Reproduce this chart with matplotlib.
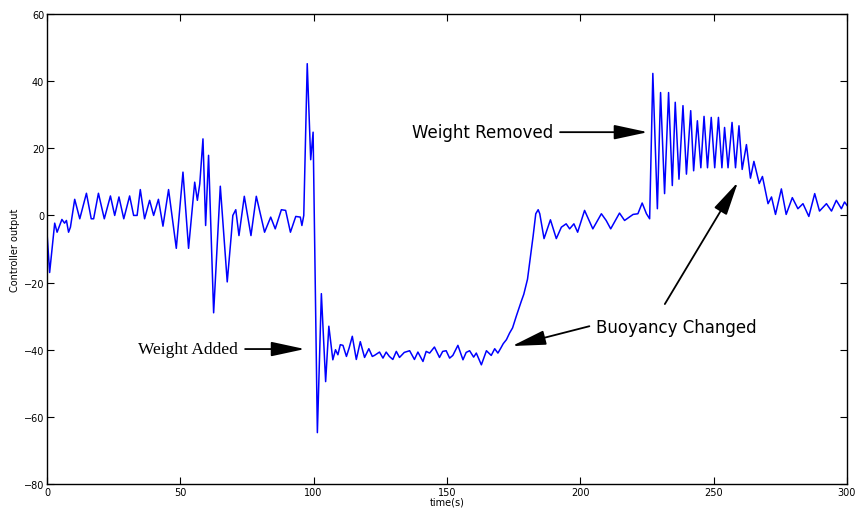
import matplotlib
matplotlib.use("Agg")
import matplotlib.pyplot as plt

# controller output (time in s, output)
time_s = [0, 1, 2.9, 3.8, 4.5, 5.6, 6.6, 7.3, 8.1, 8.8, 10.4, 12.3, 14.8, 16.6, 17.5,
          19.3, 21.5, 23.8, 25.4, 27, 28.8, 31, 32.5, 33.8, 35, 36.6, 38.5, 40, 41.8,
          43.5, 45.6, 48.5, 51, 53.1, 55.4, 56.4, 57.3, 58.5, 59.5, 60.6, 62.5, 65,
          67.6, 69.1, 69.7, 70.8, 72, 74, 76.5, 78.5, 81.6, 83.9, 85.6, 87.9, 89.5,
          91.3, 93.3, 95, 95.6, 96.3, 97.6, 98.9, 99.8, 101.4, 102.9, 104.5, 105.7,
          107.2, 108.2, 109.1, 110, 111, 112.3, 113.3, 114.5, 116, 117.5, 119.1, 120.7,
          122, 122.8, 124.7, 126, 127.2, 128.4, 129.7, 131, 132.2, 134, 136, 137.8,
          139.1, 141, 142.2, 143.5, 145.3, 147.2, 148.4, 149.7, 151, 152.2, 154.1,
          156, 157.2, 158.5, 160, 161, 162.9, 164.8, 166.6, 167.9, 169.1, 170.2,
          171.1, 172.3, 173.5, 174.6, 176, 177.9, 178.8, 180.2, 181, 182.3, 183.3,
          184.2, 184.8, 186.4, 188.8, 191, 192.9, 194.7, 196, 197.6, 199, 201.6,
          204.7, 207.9, 209.7, 211.4, 214.7, 216.6, 218, 219.8, 221.6, 223.2, 224.8,
          226, 227.2, 228.9, 230.1, 231.6, 233.1, 234.5, 235.6, 237, 238.5, 239.8,
          241.4, 242.5, 243.9, 245.2, 246.4, 247.7, 249.1, 250.4, 251.8, 253.1,
          254.1, 255.4, 256.9, 258.2, 259.5, 260.7, 262.3, 263.8, 265.1, 267.1,
          268.3, 270.4, 271.7, 273.2, 275.4, 277.2, 279.5, 281.6, 283.5, 285.7,
          287.9, 289.7, 292.3, 294.2, 296, 297.9, 299.1, 300]
output = [-5, -17, -2.3, -5, -3.5, -1.2, -2.3, -1.5, -5, -3.5, 4.8, -1, 6.6, -1, -1,
          6.6, -1, 5.8, 0, 5.5, -1, 5.8, 0, 0, 7.7, -1, 4.5, 0, 4.8,
          -3.2, 7.7, -9.8, 12.9, -9.8, 9.9, 4.5, 9.4, 22.8, -3, 17.9, -29, 8.7,
          -19.8, -6, 0, 1.7, -6, 5.7, -6, 5.7, -5, -0.5, -4, 1.7, 1.5,
          -5, -0.3, -0.5, -3, 0, 45.2, 16.6, 24.8, -64.7, -23.3, -49.5, -33,
          -43, -40, -41.5, -38.5, -38.7, -42, -39.5, -36, -42.9, -37.6, -42.3, -39.7,
          -42, -41.7, -40.7, -42.5, -40.7, -42, -42.9, -40.5, -42.3, -40.8, -40.3, -42.9,
          -40.7, -43.5, -40.5, -41, -39.2, -42.3, -40.5, -40.3, -42.5, -41.7, -38.7,
          -43, -40.8, -40.3, -42.2, -41, -44.5, -40.3, -41.7, -39.7, -41, -39.5,
          -38.2, -37, -35, -33.5, -30, -25.5, -23.5, -19, -14.1, -6.2, 0.5,
          1.7, 0.5, -6.9, -1.3, -6.9, -3.5, -2.5, -4, -2.5, -5, 1.5,
          -4, 0.5, -1.5, -4, 0.7, -1.5, -0.7, 0.3, 0.5, 3.7, 0.5,
          -1, 42.3, 2, 36.6, 6.5, 36.6, 8.9, 33.7, 10.8, 32.7, 12.3,
          31.2, 13.3, 28.2, 14.2, 29.5, 14.2, 29.2, 14.2, 29.2, 14.2,
          26.2, 14.2, 27.7, 14.2, 26.7, 13.7, 21.1, 11.1, 16.1, 9.5,
          11.6, 3.5, 5.5, 0.3, 7.9, 0.3, 5.3, 2, 3.5, -0.3,
          6.5, 1.3, 3.5, 1.3, 4.5, 2, 4, 3]

fig = plt.figure(figsize=(8.57, 5.10), dpi=100)
ax = fig.add_axes([0.0548, 0.049, 0.9335, 0.9216])

ax.plot(time_s, output, color='blue', linewidth=1.1)

ax.set_xlim(0, 300)
ax.set_ylim(-80, 60)
ax.set_xticks([0, 50, 100, 150, 200, 250, 300])
ax.set_yticks([-80, -60, -40, -20, 0, 20, 40, 60])
ax.tick_params(direction='in', top=True, right=True, labelsize=7, length=5, pad=2)
for s in ax.spines.values():
    s.set_linewidth(1.0)
ax.set_xlabel('time(s)', fontsize=7, labelpad=0)
ax.set_ylabel('Controller output', fontsize=7, labelpad=3)

arrow = dict(arrowstyle='-|>,head_length=1.3,head_width=0.28', color='black',
             lw=1.3, mutation_scale=16, shrinkA=0, shrinkB=0)

ax.text(71.5, -39.8, 'Weight Added', fontsize=12.5, family='Liberation Serif',
        ha='right', va='center')
ax.annotate('', xy=(96.7, -39.8), xytext=(74.3, -39.8), arrowprops=arrow)

ax.text(189.8, 24.8, 'Weight Removed', fontsize=12, ha='right', va='center')
ax.annotate('', xy=(225.3, 24.8), xytext=(192.4, 24.8), arrowprops=arrow)

ax.text(206, -33.3, 'Buoyancy Changed', fontsize=12, ha='left', va='center')
ax.annotate('', xy=(174.4, -38.9), xytext=(203.4, -33.0), arrowprops=arrow)
ax.annotate('', xy=(259.1, 9.9), xytext=(231.7, -26.4), arrowprops=arrow)

fig.savefig('out.png', dpi=100)
